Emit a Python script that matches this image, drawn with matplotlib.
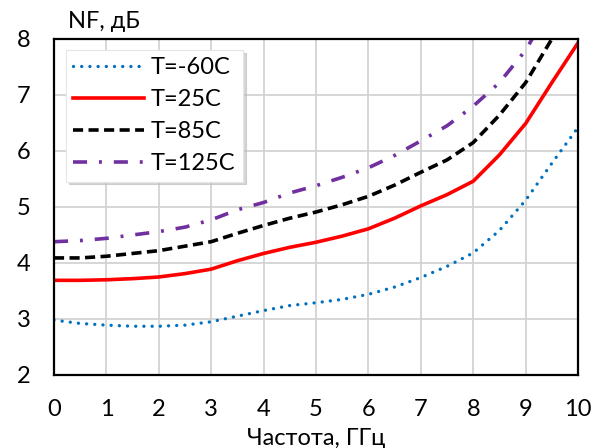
import matplotlib
matplotlib.use("Agg")
import matplotlib.pyplot as plt

freq = [0, 0.5, 1, 1.5, 2, 2.5, 3, 3.5, 4, 4.5, 5, 5.5, 6, 6.5, 7, 7.5, 8, 8.5, 9, 9.5, 10]
nf_m60 = [2.98, 2.92, 2.89, 2.87, 2.87, 2.89, 2.95, 3.05, 3.15, 3.24, 3.29, 3.35, 3.44, 3.57, 3.74, 3.94, 4.18, 4.58, 5.12, 5.78, 6.42]
nf_25 = [3.69, 3.69, 3.70, 3.72, 3.75, 3.81, 3.89, 4.04, 4.17, 4.28, 4.37, 4.48, 4.61, 4.80, 5.02, 5.22, 5.46, 5.93, 6.49, 7.22, 7.93]
nf_85 = [4.09, 4.09, 4.12, 4.17, 4.22, 4.30, 4.38, 4.53, 4.67, 4.80, 4.91, 5.04, 5.19, 5.39, 5.62, 5.84, 6.15, 6.64, 7.22, 8.00, 8.80]
nf_125 = [4.38, 4.40, 4.44, 4.50, 4.56, 4.64, 4.77, 4.95, 5.08, 5.25, 5.38, 5.53, 5.70, 5.92, 6.18, 6.45, 6.80, 7.22, 7.80, 8.60, 9.40]
labels = ["T=-60C", "T=25C", "T=85C", "T=125C"]

plt.rcParams['font.family'] = ['Lato', 'DejaVu Sans']

fig = plt.figure(figsize=(5.98, 4.48), dpi=100)
ax = fig.add_axes([0.0903, 0.163, 0.8763, 0.750])

ax.plot(freq, nf_m60, color='#0070C0', lw=2.4, linestyle=(0, (0.01, 2.45)),
        dash_capstyle='round', label=labels[0])
ax.plot(freq, nf_25, color='#FF0000', lw=2.6, linestyle='-', label=labels[1])
ax.plot(freq, nf_85, color='#000000', lw=2.6, linestyle=(0, (2.8, 1.5)), label=labels[2])
ax.plot(freq, nf_125, color='#7030A0', lw=2.6, linestyle=(0, (3.9, 3.3, 0.8, 3.3)), label=labels[3])

ax.set_xlim(0, 10)
ax.set_ylim(2, 8)
ax.set_xticks(range(0, 11))
ax.set_yticks(range(2, 9))
ax.grid(True, color='#D0D0D0', lw=1.2)
ax.set_axisbelow(True)
for s in ax.spines.values():
    s.set_linewidth(1.6)
    s.set_color('black')
ax.tick_params(axis='both', length=0, labelsize=17)
ax.tick_params(axis='x', pad=17)
ax.tick_params(axis='y', pad=17)

ax.set_xlabel("Частота, ГГц", fontsize=17, labelpad=6)
fig.text(0.114, 0.928, "NF, дБ", fontsize=17, ha='left', va='bottom')

leg = ax.legend(loc='upper left', bbox_to_anchor=(0.023, 0.967), borderaxespad=0,
                fontsize=17, handlelength=3.0, handletextpad=0.3, labelspacing=0.47,
                borderpad=0.3, frameon=True, fancybox=False,
                shadow={'color': '#BBBBBB', 'alpha': 0.6, 'ox': 2, 'oy': -2},
                edgecolor='#E6E6E6', framealpha=1)
leg.get_frame().set_linewidth(0.8)

fig.savefig("out.png", dpi=100)
